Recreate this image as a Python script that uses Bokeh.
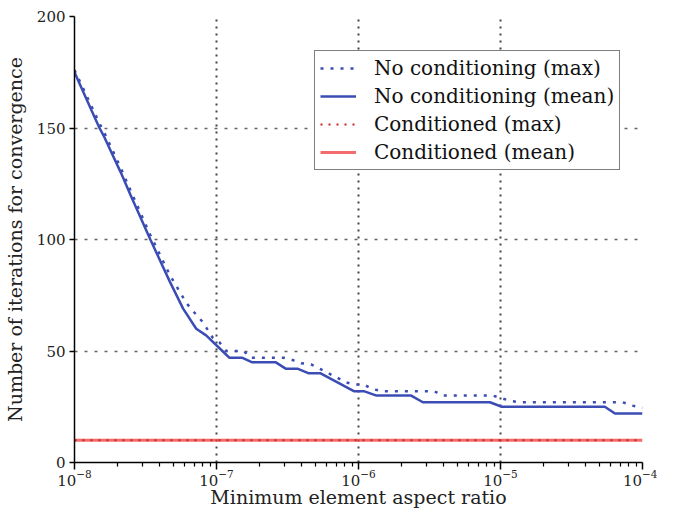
from bokeh.plotting import figure
from bokeh.models import FixedTicker, Legend, LegendItem, Range1d, ColumnDataSource
from bokeh.embed import file_html
from bokeh.resources import INLINE

# ---- data ----
ratio_max = [1.0e-8, 1.38e-8, 1.5e-8, 1.62e-8, 2.12e-8, 2.48e-8, 3.42e-8, 4.7e-8,
             6.14e-8, 6.82e-8, 8.0e-8, 9.4e-8, 1.045e-7, 1.17e-7, 1.56e-7, 1.73e-7,
             2.95e-7, 3.42e-7, 3.95e-7, 4.63e-7, 5.35e-7, 6.15e-7, 7.1e-7, 8.11e-7,
             9.27e-7, 1.09e-6, 1.24e-6, 1.46e-6, 3.41e-6, 3.9e-6, 8.84e-6, 1.19e-5,
             1.4e-5, 7.26e-5, 8.53e-5, 1.0e-4]
iters_max = [176, 157, 152, 148, 132, 122, 102, 84,
             71.5, 68, 63, 56, 54, 50, 50, 47,
             47, 46, 44.5, 44, 42, 40, 38, 36,
             35, 35, 33, 32, 32, 30, 30, 27.5,
             27, 27, 25.5, 24.5]

ratio_mean = [1.0e-8, 1.38e-8, 1.5e-8, 1.62e-8, 2.12e-8, 2.48e-8, 3.42e-8, 4.7e-8,
              5.82e-8, 7.2e-8, 8.45e-8, 1.1e-7, 1.23e-7, 1.51e-7, 1.77e-7, 2.6e-7,
              3.09e-7, 3.75e-7, 4.47e-7, 5.41e-7, 9.27e-7, 1.09e-6, 1.34e-6, 2.35e-6,
              2.84e-6, 8.42e-6, 1.02e-5, 5.43e-5, 6.4e-5, 1.0e-4]
iters_mean = [175, 155, 150, 146, 130, 120, 100, 81,
              69, 60, 57, 50, 47, 47, 45, 45,
              42, 42, 40, 40, 32, 32, 30, 30,
              27, 27, 25, 25, 22, 22]

ratio_cond = [1.0e-8, 1.0e-7, 1.0e-6, 1.0e-5, 1.0e-4]
iters_cond_max = [10, 10, 10, 10, 10]
iters_cond_mean = [10, 10, 10, 10, 10]

x_major_ticks = [1e-8, 1e-7, 1e-6, 1e-5, 1e-4]
y_major_ticks = [0, 50, 100, 150, 200]
labels = ["No conditioning (max)", "No conditioning (mean)",
          "Conditioned (max)", "Conditioned (mean)"]
x_title = "Minimum element aspect ratio"
y_title = "Number of iterations for convergence"

FONT = "DejaVu Serif"
BLUE = "#3b4db4"
RED = "#f03a3a"

p = figure(width=657, height=510, x_axis_type="log",
           x_range=Range1d(1e-8, 1e-4), y_range=Range1d(0, 200),
           output_backend="svg", toolbar_location=None,
           min_border_left=65, min_border_right=15,
           min_border_top=16, min_border_bottom=42)
p.outline_line_color = None
p.background_fill_color = "white"

# axes
minor = [k * d for d in x_major_ticks[:-1] for k in range(2, 10)]
p.xaxis.ticker = FixedTicker(ticks=x_major_ticks, minor_ticks=minor)
p.yaxis.ticker = FixedTicker(ticks=y_major_ticks)
for ax in (p.xaxis[0], p.yaxis[0]):
    ax.axis_line_color = "black"
    ax.axis_line_width = 1.5
    ax.major_tick_line_color = "black"
    ax.major_tick_line_width = 1.5
    ax.minor_tick_line_color = "black"
    ax.minor_tick_line_width = 1.2
    ax.major_tick_in = 0
    ax.minor_tick_in = 0
    ax.major_label_text_font = FONT
    ax.major_label_text_font_size = "15px"
    ax.major_label_text_color = "#222222"
    ax.axis_label_text_font = FONT
    ax.axis_label_text_font_size = "19px"
    ax.axis_label_text_font_style = "normal"
    ax.axis_label_text_color = "#222222"
p.xaxis.major_tick_out = 7
p.xaxis.minor_tick_out = 4
p.yaxis.major_tick_out = 5
p.yaxis.minor_tick_line_color = None
p.xaxis.major_label_standoff = 0
p.yaxis.major_label_standoff = 4
p.xaxis.axis_label = x_title
p.yaxis.axis_label = y_title
p.xaxis.axis_label_standoff = -3
p.yaxis.axis_label_standoff = 8

# grids
p.xgrid.ticker = FixedTicker(ticks=x_major_ticks[1:-1])
p.ygrid.ticker = FixedTicker(ticks=y_major_ticks[1:-1])
p.xgrid.grid_line_color = "#444444"
p.xgrid.grid_line_dash = "2 5"
p.xgrid.grid_line_width = 2
p.ygrid.grid_line_color = "#666666"
p.ygrid.grid_line_dash = "3 7"
p.ygrid.grid_line_width = 1.5

src_max = ColumnDataSource(dict(x=ratio_max, y=iters_max))
src_mean = ColumnDataSource(dict(x=ratio_mean, y=iters_mean))
src_cmax = ColumnDataSource(dict(x=ratio_cond, y=iters_cond_max))
src_cmean = ColumnDataSource(dict(x=ratio_cond, y=iters_cond_mean))

r_cmean = p.line("x", "y", source=src_cmean, line_color=RED, line_width=3, line_alpha=0.75)
r_cmax = p.line("x", "y", source=src_cmax, line_color="#d02020", line_width=2, line_dash="2 6")
r_max = p.line("x", "y", source=src_max, line_color=BLUE, line_width=2.5, line_dash="3 7")
r_mean = p.line("x", "y", source=src_mean, line_color=BLUE, line_width=2.5)

legend = Legend(items=[LegendItem(label=labels[0], renderers=[r_max]),
                       LegendItem(label=labels[1], renderers=[r_mean]),
                       LegendItem(label=labels[2], renderers=[r_cmax]),
                       LegendItem(label=labels[3], renderers=[r_cmean])],
                location=(240, 292), padding=5, spacing=4,
                glyph_width=36, glyph_height=24, label_height=24,
                label_standoff=18, margin=0,
                label_text_font=FONT, label_text_font_size="20px",
                label_text_color="#111111",
                border_line_color="black", border_line_width=1.5,
                background_fill_color="white", background_fill_alpha=1.0)
p.add_layout(legend)

open("out.html", "w").write(file_html(p, INLINE))
